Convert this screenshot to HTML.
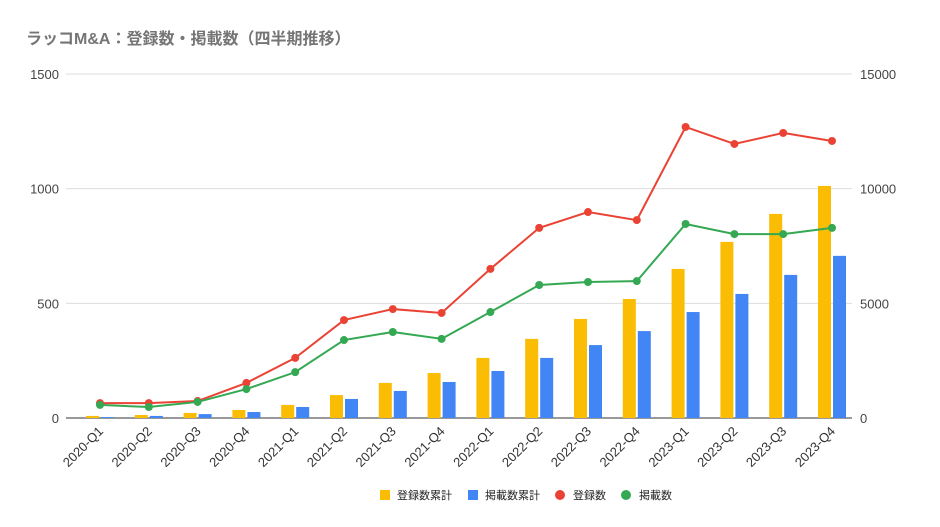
<!DOCTYPE html>
<html><head><meta charset="utf-8"><style>
body{margin:0;background:#fff;}
svg{display:block;font-family:"Liberation Sans","Noto Sans CJK JP",sans-serif;}
</style></head><body>
<svg id="chart" width="940" height="527" viewBox="0 0 940 527">
<text x="26" y="44" font-size="16" font-weight="bold" fill="#757575">ラッコM&amp;A：登録数・掲載数（四半期推移）</text>
<g id="grid"></g><g id="bars"></g><g id="lines"></g><g id="axes"></g>
<g id="legend" font-size="11" fill="#222">
<rect x="380" y="490" width="10" height="10" fill="#fbbc04"/>
<text x="397" y="499">登録数累計</text>
<rect x="468" y="490" width="10" height="10" fill="#4285f4"/>
<text x="485" y="499">掲載数累計</text>
<circle cx="560" cy="495" r="5" fill="#ea4335"/>
<text x="573" y="499">登録数</text>
<circle cx="626" cy="495" r="5" fill="#34a853"/>
<text x="639" y="499">掲載数</text>
</g>
</svg>
<script>
const categories=["2020-Q1","2020-Q2","2020-Q3","2020-Q4","2021-Q1","2021-Q2","2021-Q3","2021-Q4","2022-Q1","2022-Q2","2022-Q3","2022-Q4","2023-Q1","2023-Q2","2023-Q3","2023-Q4"];
const registrations=[65,65,74,153,262,427,475,458,650,829,898,863,1269,1195,1243,1208];
const listings=[57,48,70,126,200,340,375,345,462,580,593,597,846,802,802,829];
const cumRegistrations=[90,130,220,350,570,1000,1530,1960,2620,3450,4320,5190,6500,7680,8900,10120];
const cumListings=[40,90,170,260,480,830,1180,1570,2050,2620,3180,3790,4620,5410,6240,7070];
const leftTicks=[0,500,1000,1500];
const rightTicks=[0,5000,10000,15000];
const NS="http://www.w3.org/2000/svg";
const GX0=66,GX1=852,Y0=418,Y1=74;
const X0=75.6,band=48.8;
const xc=i=>X0+band*(i+0.5);
const yL=v=>Y0-(v/1500)*(Y0-Y1);
const yR=v=>Y0-(v/15000)*(Y0-Y1);
function mk(tag,attrs,parent){const e=document.createElementNS(NS,tag);for(const k in attrs)e.setAttribute(k,attrs[k]);document.getElementById(parent).appendChild(e);return e;}
leftTicks.forEach((t,i)=>{
 const g=mk("line",{x1:GX0,x2:GX1,y1:yL(t),y2:yL(t),stroke:i===0?"#333":"#ddd","stroke-width":1},"grid");
 
 
 const l=mk("text",{x:GX0-7,y:yL(t)+5,"text-anchor":"end","font-size":"13",fill:"#444"},"axes");l.textContent=t;
 
 
});
rightTicks.forEach(t=>{
 const l=mk("text",{x:GX1+8,y:yR(t)+5,"font-size":"13",fill:"#444"},"axes");l.textContent=t;
 
 
});
categories.forEach((c,i)=>{
 const x=xc(i);
 const b1=mk("rect",{x:x-14,y:yR(cumRegistrations[i]),width:13,height:Y0-yR(cumRegistrations[i]),fill:"#fbbc04"},"bars");
 
 
 const b2=mk("rect",{x:x+1,y:yR(cumListings[i]),width:13,height:Y0-yR(cumListings[i]),fill:"#4285f4"},"bars");
 
 
 const l=mk("text",{x:x+4,y:432,"text-anchor":"end","font-size":"13",fill:"#333",transform:`rotate(-45 ${x+4} 432)`},"axes");l.textContent=c;
 
 
});
[[registrations,"#ea4335","registrations"],[listings,"#34a853","listings"]].forEach(([d,col,n])=>{
 const p=mk("polyline",{points:d.map((v,i)=>xc(i)+","+yL(v)).join(" "),fill:"none",stroke:col,"stroke-width":2},"lines");
 
 
 d.forEach((v,i)=>{const c=mk("circle",{cx:xc(i),cy:yL(v),r:4,fill:col},"lines");
 
 });
});
</script>
</body></html>
